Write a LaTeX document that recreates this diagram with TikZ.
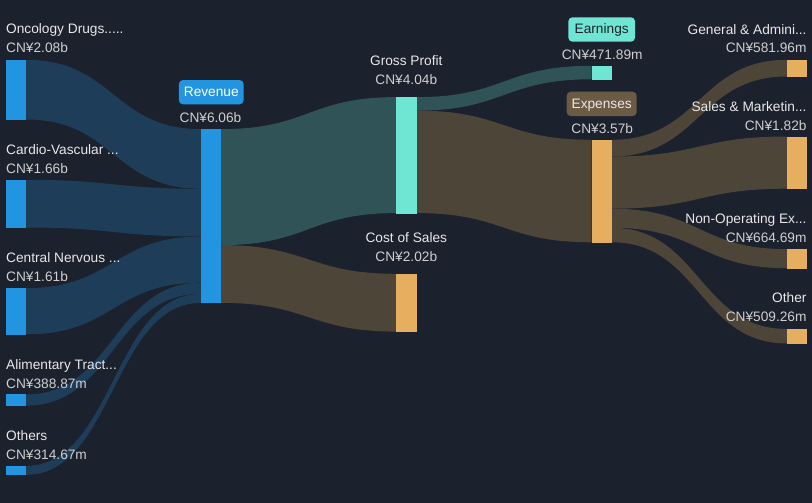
\documentclass[tikz,border=0pt]{standalone}
\usepackage{fontspec}
\setmainfont{Liberation Sans}
\usetikzlibrary{calc}
\definecolor{bg}{HTML}{1B212D}
\definecolor{cblue}{HTML}{2394DF}
\definecolor{fblue}{HTML}{1E3D58}
\definecolor{cteal}{HTML}{6FE6D3}
\definecolor{fteal}{HTML}{2F5357}
\definecolor{corange}{HTML}{E6AF5F}
\definecolor{fbrown}{HTML}{4C4538}
\definecolor{cbrownbox}{HTML}{6B5A44}
\definecolor{tname}{HTML}{E8E8E8}
\definecolor{tval}{HTML}{CFCFCF}
\newcommand\band[6]{%
 \fill[#6] let \p1=($(#1.north east)+(0,#2)$), \p2=($(#1.north east)+(0,#2+#3)$),
 \p3=($(#4.north west)+(0,#5)$), \p4=($(#4.north west)+(0,#5+#3)$), \p5=($(\p1)!0.5!(\p3)$) in
 (\p1) .. controls (\x5,\y1) and (\x5,\y3) .. (\p3) -- (\p4) .. controls (\x5,\y4) and (\x5,\y2) .. (\p2) -- cycle;}
\begin{document}
\begin{tikzpicture}[x=1pt,y=-1pt,
  bar/.style={draw=none, inner sep=0pt, minimum width=20pt},
  lbl/.style={text=tname, font=\fontsize{13.7}{16}\selectfont, inner sep=0pt},
  val/.style={text=tval, font=\fontsize{13.7}{16}\selectfont, inner sep=0pt},
  tagbox/.style={rounded corners=4pt, inner sep=0pt, font=\fontsize{13.7}{16}\selectfont,
     text height=10pt, text depth=1pt, minimum height=24.3pt}]
\fill[bg] (0,0) rectangle (812,503);
\useasboundingbox (0,0) rectangle (812,503);
% bars (nodes)
\node[bar, minimum height=59.7pt] (onc) at (16,89.85) {};
\node[bar, minimum height=47.7pt] (car) at (16,203.85) {};
\node[bar, minimum height=46.2pt] (cns) at (16,311.4) {};
\node[bar, minimum height=11.2pt] (ali) at (16,400.2) {};
\node[bar, minimum height=9pt] (oth) at (16,470.5) {};
\node[bar, minimum height=173.8pt] (rev) at (211,216.2) {};
\node[bar, minimum height=116pt] (gp) at (406.5,155.3) {};
\node[bar, minimum height=57.8pt] (cos) at (406.5,302.9) {};
\node[bar, minimum height=13.5pt] (ear) at (601.7,72.75) {};
\node[bar, minimum height=102.5pt] (exp) at (601.7,191.25) {};
\node[bar, minimum height=16.7pt] (ga) at (797,68.35) {};
\node[bar, minimum height=52.2pt] (sm) at (797,162.8) {};
\node[bar, minimum height=19.1pt] (no) at (797,258.85) {};
\node[bar, minimum height=14.5pt] (ot) at (797,336.4) {};
% flows
\band{onc}{0}{59.7}{rev}{0}{fblue}
\band{car}{0}{47.7}{rev}{59.7}{fblue}
\band{cns}{0}{46.2}{rev}{107.4}{fblue}
\band{ali}{0}{11.2}{rev}{153.6}{fblue}
\band{oth}{0}{9}{rev}{164.8}{fblue}
\band{rev}{0}{116}{gp}{0}{fteal}
\band{rev}{116}{57.8}{cos}{0}{fbrown}
\band{gp}{0}{13.5}{ear}{0}{fteal}
\band{gp}{13.5}{102.5}{exp}{0}{fbrown}
\band{exp}{0}{16.7}{ga}{0}{fbrown}
\band{exp}{16.7}{52.2}{sm}{0}{fbrown}
\band{exp}{68.9}{19.1}{no}{0}{fbrown}
\band{exp}{88}{14.5}{ot}{0}{fbrown}
% bar fills on top
\foreach \n in {onc,car,cns,ali,oth,rev} \fill[cblue] (\n.north west) rectangle (\n.south east);
\foreach \n in {gp,ear} \fill[cteal] (\n.north west) rectangle (\n.south east);
\foreach \n in {cos,exp,ga,sm,no,ot} \fill[corange] (\n.north west) rectangle (\n.south east);
% left labels
\node[lbl, anchor=base west] (oncN) at (6,34) {Oncology Drugs.....};
\node[val, anchor=base west] (oncV) at (6,53) {CN¥2.08b};
\node[lbl, anchor=base west] (carN) at (6,154) {Cardio-Vascular ...};
\node[val, anchor=base west] (carV) at (6,173) {CN¥1.66b};
\node[lbl, anchor=base west] (cnsN) at (6,262) {Central Nervous ...};
\node[val, anchor=base west] (cnsV) at (6,281) {CN¥1.61b};
\node[lbl, anchor=base west] (aliN) at (6,369) {Alimentary Tract...};
\node[val, anchor=base west] (aliV) at (6,388) {CN¥388.87m};
\node[lbl, anchor=base west] (othN) at (6,440) {Others};
\node[val, anchor=base west] (othV) at (6,459) {CN¥314.67m};
% middle labels
\node[tagbox, fill=cblue, text=white, minimum width=64.7pt] (revT) at (211.3,92.2) {Revenue};
\node[val, anchor=base] (revV) at (210.5,122) {CN¥6.06b};
\node[lbl, anchor=base] (gpN) at (406.3,65.7) {Gross Profit};
\node[val, anchor=base] (gpV) at (406.3,84.5) {CN¥4.04b};
\node[lbl, anchor=base] (cosN) at (406.3,242.3) {Cost of Sales};
\node[val, anchor=base] (cosV) at (406.3,261) {CN¥2.02b};
\node[tagbox, fill=cteal, text=bg, minimum width=66.7pt] (earT) at (601.7,29.5) {Earnings};
\node[val, anchor=base] (earV) at (602.2,60) {CN¥471.89m};
\node[tagbox, fill=cbrownbox, text=tname, minimum width=70pt] (expT) at (601.7,103.9) {Expenses};
\node[val, anchor=base] (expV) at (602.2,133) {CN¥3.57b};
% right labels
\node[lbl, anchor=base east] (gaN) at (806.7,34.7) {General \& Admini...};
\node[val, anchor=base east] (gaV) at (806.7,53) {CN¥581.96m};
\node[lbl, anchor=base east] (smN) at (806.7,111) {Sales \& Marketin...};
\node[val, anchor=base east] (smV) at (806.7,130) {CN¥1.82b};
\node[lbl, anchor=base east] (noN) at (806.7,223) {Non-Operating Ex...};
\node[val, anchor=base east] (noV) at (806.7,242) {CN¥664.69m};
\node[lbl, anchor=base east] (otN) at (806.7,302) {Other};
\node[val, anchor=base east] (otV) at (806.7,321) {CN¥509.26m};
\end{tikzpicture}
\end{document}
